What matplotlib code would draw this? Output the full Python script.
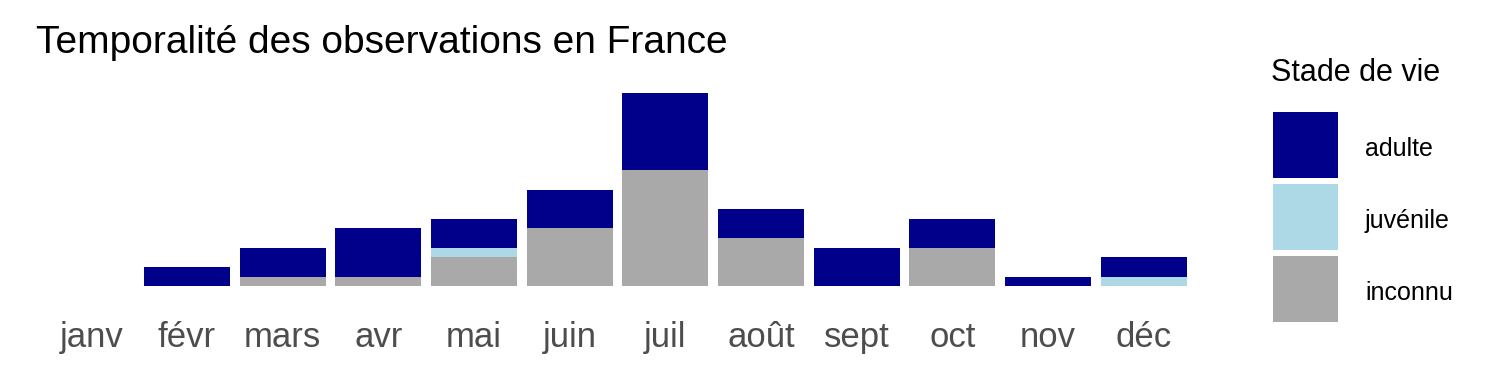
import matplotlib
matplotlib.use("Agg")
import matplotlib.pyplot as plt
from matplotlib.patches import Rectangle
import numpy as np

plt.rcParams["font.family"] = ["Liberation Sans", "DejaVu Sans"]

months = ["janv", "févr", "mars", "avr", "mai", "juin",
          "juil", "août", "sept", "oct", "nov", "déc"]
inconnu = [0, 0, 1, 1, 3, 6, 12, 5, 0, 4, 0, 0]
juvenile = [0, 0, 0, 0, 1, 0, 0, 0, 0, 0, 0, 1]
adulte = [0, 2, 3, 5, 3, 4, 8, 3, 4, 3, 1, 2]

stages = ["adulte", "juvénile", "inconnu"]
colors = {"adulte": "#00008B", "juvénile": "#ADD8E6", "inconnu": "#A9A9A9"}

W, H = 1500, 375
fig = plt.figure(figsize=(15, 3.75), dpi=100)
ax = fig.add_axes([34 / W, 1 - 296 / H, (1201 - 34) / W, (296 - 83) / H])

x = np.arange(len(months))
inc = np.array(inconnu)
juv = np.array(juvenile)
adu = np.array(adulte)
ax.bar(x, inc, width=0.9, color=colors["inconnu"])
ax.bar(x, juv, width=0.9, bottom=inc, color=colors["juvénile"])
ax.bar(x, adu, width=0.9, bottom=inc + juv, color=colors["adulte"])

ax.set_xlim(-0.6, len(months) - 0.4)
ax.set_ylim(-1, 21)
ax.set_xticks(x)
ax.set_xticklabels(months, fontsize=25, color="#4D4D4D")
ax.tick_params(axis="x", length=0, pad=18)
ax.set_yticks([])
for s in ax.spines.values():
    s.set_visible(False)

fig.text(36 / W, 1 - 53 / H, "Temporalité des observations en France",
         fontsize=28, va="baseline", ha="left")

# legend drawn by hand to match key size
fig.text(1271 / W, 1 - 73 / H, "Stade de vie", fontsize=22, va="center", ha="left")
key_tops = [112, 184, 256]
for st, top in zip(stages, key_tops):
    fig.add_artist(Rectangle((1273 / W, 1 - (top + 66) / H), 65 / W, 66 / H,
                             transform=fig.transFigure, color=colors[st], lw=0))
    fig.text(1365 / W, 1 - (top + 37) / H, st, fontsize=18, va="center", ha="left")

fig.savefig("out.png", dpi=100)
